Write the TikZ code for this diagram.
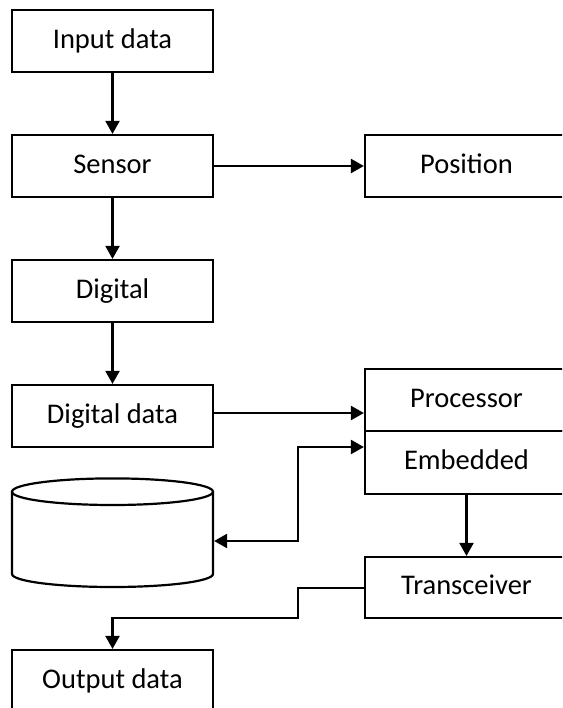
\documentclass[tikz,border=0pt]{standalone}
\usepackage{fontspec}
\setmainfont{Carlito}
\usetikzlibrary{arrows.meta}
\begin{document}
\begin{tikzpicture}[x=1pt,y=-1pt,line width=2.2pt,
  box/.style={draw, rectangle, minimum width=201pt, minimum height=62pt, inner sep=0pt,
    text height=18pt, text depth=3.4pt, font=\fontsize{28.5}{34}\selectfont},
  rbox/.style={box, minimum width=203pt},
  arr/.style={-{Triangle[length=13pt,width=14pt]}},
  darr/.style={{Triangle[length=13pt,width=14pt]}-{Triangle[length=13pt,width=14pt]}}]
\useasboundingbox (0,0) rectangle (562,708);
\clip (0,0) rectangle (562,708);
% left column
\node[box] (in) at (112.5,41) {Input data};
\node[box] (sensor) at (112.5,166) {Sensor};
\node[box] (digital) at (112.5,291) {Digital};
\node[box] (ddata) at (112.5,416) {Digital data};
\node[box] (out) at (112.5,681) {Output data};
% right column
\node[rbox] (pos) at (466.5,166) {Position};
\node[rbox] (proc) at (466.5,400) {Processor};
\node[rbox, minimum height=63pt] (emb) at (466.5,462.5) {Embedded};
\node[rbox, minimum height=61pt] (trans) at (466.5,587.5) {Transceiver};
% database cylinder
\node[minimum width=201pt, minimum height=110pt, inner sep=0pt] (db) at (112.5,533) {};
\draw (12,491.7) -- (12,574) arc[start angle=180, end angle=0, x radius=100.5, y radius=13] -- (213,491.7);
\draw (112.5,491.7) ellipse [x radius=100.5, y radius=13.3];
% connectors
\draw[arr] (in) -- (sensor);
\draw[arr] (sensor) -- (digital);
\draw[arr] (digital) -- (ddata);
\draw[arr] (sensor) -- (pos);
\draw[arr] (ddata.east |- 0,413) -- (proc.west |- 0,413);
\coordinate (j1) at (297.7,541);
\coordinate (j2) at (297.7,447);
\draw[darr] (db.east |- j1) -- (j1) -- (j2) -- (emb.west |- j2);
\draw[arr] (emb) -- (trans);
\coordinate (k1) at (297.7,588);
\coordinate (k2) at (297.7,618);
\draw[arr] (trans.west |- k1) -- (k1) -- (k2) -- (out.north |- k2) -- (out.north);
\end{tikzpicture}
\end{document}
